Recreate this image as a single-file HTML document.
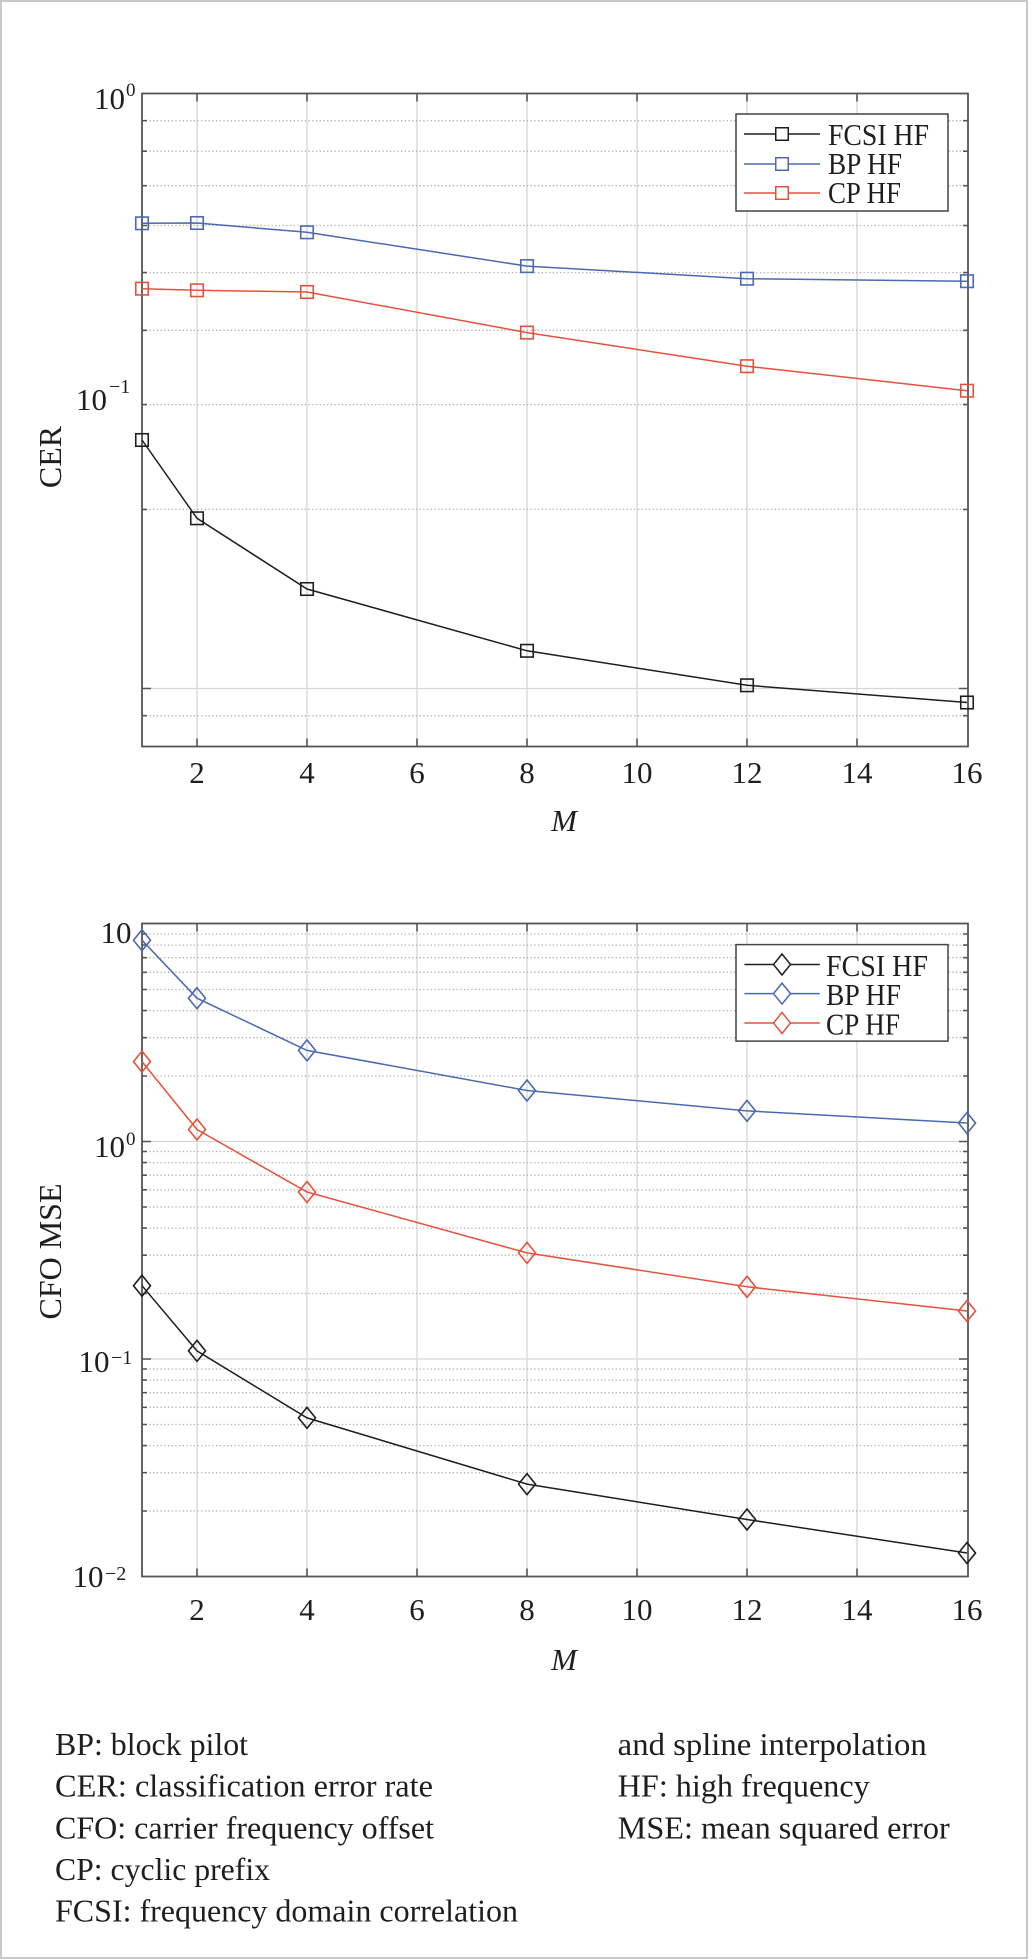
<!DOCTYPE html>
<html>
<head>
<meta charset="utf-8">
<style>
html,body{margin:0;padding:0;background:#fff;}
svg{display:block;}
text{font-family:"Liberation Serif","Times New Roman",serif;fill:#1e1e1e;}
</style>
</head>
<body>
<svg xmlns="http://www.w3.org/2000/svg" width="1033" height="1960" viewBox="0 0 1033 1960">
<rect x="0" y="0" width="1033" height="1960" fill="#fff"/>
<rect x="1" y="1" width="1026" height="1957" fill="#fff" stroke="#c8c8c8" stroke-width="2"/>

<!-- ================= TOP PLOT ================= -->
<g>
  <!-- vertical grid -->
  <g stroke="#d6d6d6" stroke-width="1.3">
    <line x1="197" y1="93.5" x2="197" y2="746.5"/>
    <line x1="307" y1="93.5" x2="307" y2="746.5"/>
    <line x1="417" y1="93.5" x2="417" y2="746.5"/>
    <line x1="527" y1="93.5" x2="527" y2="746.5"/>
    <line x1="637" y1="93.5" x2="637" y2="746.5"/>
    <line x1="747" y1="93.5" x2="747" y2="746.5"/>
    <line x1="857" y1="93.5" x2="857" y2="746.5"/>
    <line x1="142" y1="688.5" x2="968" y2="688.5"/>
  </g>
  <!-- minor dotted -->
  <g stroke="#b0b0b0" stroke-width="1.3" stroke-dasharray="1.3 2.4">
    <line x1="142" y1="120.7" x2="968" y2="120.7"/>
    <line x1="142" y1="151.2" x2="968" y2="151.2"/>
    <line x1="142" y1="185.7" x2="968" y2="185.7"/>
    <line x1="142" y1="225.5" x2="968" y2="225.5"/>
    <line x1="142" y1="272.6" x2="968" y2="272.6"/>
    <line x1="142" y1="330.3" x2="968" y2="330.3"/>
    <line x1="142" y1="404.6" x2="968" y2="404.6"/>
    <line x1="142" y1="509.4" x2="968" y2="509.4"/>
    <line x1="142" y1="715.7" x2="968" y2="715.7"/>
  </g>
  <!-- ticks -->
  <g stroke="#555" stroke-width="1.6">
    <path d="M197 93.5v8M307 93.5v8M417 93.5v8M527 93.5v8M637 93.5v8M747 93.5v8M857 93.5v8
             M197 746.5v-8M307 746.5v-8M417 746.5v-8M527 746.5v-8M637 746.5v-8M747 746.5v-8M857 746.5v-8"/>
    <path d="M142 120.7h5M142 151.2h5M142 185.7h5M142 225.5h5M142 272.6h5M142 330.3h5M142 404.6h5M142 509.4h5M142 715.7h5M142 688.5h9
             M968 120.7h-5M968 151.2h-5M968 185.7h-5M968 225.5h-5M968 272.6h-5M968 330.3h-5M968 404.6h-5M968 509.4h-5M968 715.7h-5M968 688.5h-9"/>
  </g>
  <!-- axes box -->
  <rect x="142" y="93.5" width="826" height="653" fill="none" stroke="#555" stroke-width="1.8"/>

  <!-- series -->
  <g fill="none" stroke-width="1.5">
    <polyline stroke="#1e1e1e" points="142,440 197,518.3 307,589 527,650.8 747,685.3 967,702.5"/>
    <polyline stroke="#4a68b3" points="142,223.3 197,223 307,232.3 527,266.1 747,278.7 967,281.2"/>
    <polyline stroke="#e4523c" points="142,288.7 197,290.3 307,292 527,332.6 747,366.2 967,390.7"/>
  </g>
  <g fill="none" stroke-width="1.6">
    <g stroke="#1e1e1e">
      <rect x="135.75" y="433.75" width="12.5" height="12.5"/>
      <rect x="190.75" y="512.05" width="12.5" height="12.5"/>
      <rect x="300.75" y="582.75" width="12.5" height="12.5"/>
      <rect x="520.75" y="644.55" width="12.5" height="12.5"/>
      <rect x="740.75" y="679.05" width="12.5" height="12.5"/>
      <rect x="960.75" y="696.25" width="12.5" height="12.5"/>
    </g>
    <g stroke="#4a68b3">
      <rect x="135.75" y="217.05" width="12.5" height="12.5"/>
      <rect x="190.75" y="216.75" width="12.5" height="12.5"/>
      <rect x="300.75" y="226.05" width="12.5" height="12.5"/>
      <rect x="520.75" y="259.85" width="12.5" height="12.5"/>
      <rect x="740.75" y="272.45" width="12.5" height="12.5"/>
      <rect x="960.75" y="274.95" width="12.5" height="12.5"/>
    </g>
    <g stroke="#e4523c">
      <rect x="135.75" y="282.45" width="12.5" height="12.5"/>
      <rect x="190.75" y="284.05" width="12.5" height="12.5"/>
      <rect x="300.75" y="285.75" width="12.5" height="12.5"/>
      <rect x="520.75" y="326.35" width="12.5" height="12.5"/>
      <rect x="740.75" y="359.95" width="12.5" height="12.5"/>
      <rect x="960.75" y="384.45" width="12.5" height="12.5"/>
    </g>
  </g>

  <!-- legend -->
  <rect x="736" y="114" width="212" height="97" fill="#fff" stroke="#444" stroke-width="1.5"/>
  <g stroke-width="1.5" fill="none">
    <line x1="744" y1="134" x2="820" y2="134" stroke="#1e1e1e"/>
    <rect x="775.75" y="127.75" width="12.5" height="12.5" stroke="#1e1e1e" fill="#fff"/>
    <line x1="744" y1="164" x2="820" y2="164" stroke="#4a68b3"/>
    <rect x="775.75" y="157.75" width="12.5" height="12.5" stroke="#4a68b3" fill="#fff"/>
    <line x1="744" y1="193" x2="820" y2="193" stroke="#e4523c"/>
    <rect x="775.75" y="186.75" width="12.5" height="12.5" stroke="#e4523c" fill="#fff"/>
  </g>
  <text x="828" y="145" font-size="31" textLength="101" lengthAdjust="spacingAndGlyphs">FCSI HF</text>
  <text x="828" y="174" font-size="31" textLength="74" lengthAdjust="spacingAndGlyphs">BP HF</text>
  <text x="828" y="203" font-size="31" textLength="73" lengthAdjust="spacingAndGlyphs">CP HF</text>

  <!-- y tick labels -->
  <text x="125" y="109" font-size="31" text-anchor="end">10</text>
  <text x="126" y="96" font-size="19">0</text>
  <text x="107" y="410" font-size="31" text-anchor="end">10</text>
  <text x="109" y="393" font-size="20">−1</text>

  <!-- x tick labels -->
  <g font-size="31" text-anchor="middle">
    <text x="197" y="783">2</text>
    <text x="307" y="783">4</text>
    <text x="417" y="783">6</text>
    <text x="527" y="783">8</text>
    <text x="637" y="783">10</text>
    <text x="747" y="783">12</text>
    <text x="857" y="783">14</text>
    <text x="967" y="783">16</text>
  </g>
  <text x="564" y="831" font-size="31" font-style="italic" text-anchor="middle">M</text>
  <text transform="translate(61,457) rotate(-90)" font-size="32" text-anchor="middle">CER</text>
</g>

<!-- ================= BOTTOM PLOT ================= -->
<g>
  <g stroke="#d6d6d6" stroke-width="1.3">
    <line x1="197" y1="923.5" x2="197" y2="1576.5"/>
    <line x1="307" y1="923.5" x2="307" y2="1576.5"/>
    <line x1="417" y1="923.5" x2="417" y2="1576.5"/>
    <line x1="527" y1="923.5" x2="527" y2="1576.5"/>
    <line x1="637" y1="923.5" x2="637" y2="1576.5"/>
    <line x1="747" y1="923.5" x2="747" y2="1576.5"/>
    <line x1="857" y1="923.5" x2="857" y2="1576.5"/>
    <line x1="142" y1="1141.5" x2="968" y2="1141.5"/>
    <line x1="142" y1="1359" x2="968" y2="1359"/>
  </g>
  <g stroke="#b0b0b0" stroke-width="1.3" stroke-dasharray="1.3 2.4">
    <line x1="142" y1="934.0" x2="968" y2="934.0"/>
    <line x1="142" y1="945.1" x2="968" y2="945.1"/>
    <line x1="142" y1="957.7" x2="968" y2="957.7"/>
    <line x1="142" y1="972.3" x2="968" y2="972.3"/>
    <line x1="142" y1="989.5" x2="968" y2="989.5"/>
    <line x1="142" y1="1010.6" x2="968" y2="1010.6"/>
    <line x1="142" y1="1037.7" x2="968" y2="1037.7"/>
    <line x1="142" y1="1076.0" x2="968" y2="1076.0"/>
    <line x1="142" y1="1151.5" x2="968" y2="1151.5"/>
    <line x1="142" y1="1162.6" x2="968" y2="1162.6"/>
    <line x1="142" y1="1175.2" x2="968" y2="1175.2"/>
    <line x1="142" y1="1189.8" x2="968" y2="1189.8"/>
    <line x1="142" y1="1207.0" x2="968" y2="1207.0"/>
    <line x1="142" y1="1228.1" x2="968" y2="1228.1"/>
    <line x1="142" y1="1255.2" x2="968" y2="1255.2"/>
    <line x1="142" y1="1293.5" x2="968" y2="1293.5"/>
    <line x1="142" y1="1369.0" x2="968" y2="1369.0"/>
    <line x1="142" y1="1380.1" x2="968" y2="1380.1"/>
    <line x1="142" y1="1392.7" x2="968" y2="1392.7"/>
    <line x1="142" y1="1407.3" x2="968" y2="1407.3"/>
    <line x1="142" y1="1424.5" x2="968" y2="1424.5"/>
    <line x1="142" y1="1445.6" x2="968" y2="1445.6"/>
    <line x1="142" y1="1472.7" x2="968" y2="1472.7"/>
    <line x1="142" y1="1511.0" x2="968" y2="1511.0"/>
  </g>
  <g stroke="#555" stroke-width="1.6">
    <path d="M197 923.5v8M307 923.5v8M417 923.5v8M527 923.5v8M637 923.5v8M747 923.5v8M857 923.5v8
             M197 1576.5v-8M307 1576.5v-8M417 1576.5v-8M527 1576.5v-8M637 1576.5v-8M747 1576.5v-8M857 1576.5v-8"/>
    <path d="M142 934h5M142 945.1h5M142 957.7h5M142 972.3h5M142 989.5h5M142 1010.6h5M142 1037.7h5M142 1076h5
             M142 1151.5h5M142 1162.6h5M142 1175.2h5M142 1189.8h5M142 1207h5M142 1228.1h5M142 1255.2h5M142 1293.5h5
             M142 1369h5M142 1380.1h5M142 1392.7h5M142 1407.3h5M142 1424.5h5M142 1445.6h5M142 1472.7h5M142 1511h5
             M142 1141.5h9M142 1359h9"/>
    <path d="M968 934h-5M968 945.1h-5M968 957.7h-5M968 972.3h-5M968 989.5h-5M968 1010.6h-5M968 1037.7h-5M968 1076h-5
             M968 1151.5h-5M968 1162.6h-5M968 1175.2h-5M968 1189.8h-5M968 1207h-5M968 1228.1h-5M968 1255.2h-5M968 1293.5h-5
             M968 1369h-5M968 1380.1h-5M968 1392.7h-5M968 1407.3h-5M968 1424.5h-5M968 1445.6h-5M968 1472.7h-5M968 1511h-5
             M968 1141.5h-9M968 1359h-9"/>
  </g>
  <rect x="142" y="923.5" width="826" height="653" fill="none" stroke="#555" stroke-width="1.8"/>

  <g fill="none" stroke-width="1.5">
    <polyline stroke="#4a68b3" points="142,940.2 197,998.2 307,1050.4 527,1090.5 747,1110.9 967,1123"/>
    <polyline stroke="#e4523c" points="142,1061.6 197,1129.5 307,1192 527,1252.9 747,1286.8 967,1311"/>
    <polyline stroke="#1e1e1e" points="142,1285.7 197,1350.9 307,1417.9 527,1484.1 747,1519.5 967,1553"/>
  </g>
  <g fill="none" stroke-width="1.6">
    <g stroke="#4a68b3">
      <path d="M142 929.7L150.5 940.2L142 950.7L133.5 940.2Z"/>
      <path d="M197 987.7L205.5 998.2L197 1008.7L188.5 998.2Z"/>
      <path d="M307 1039.9L315.5 1050.4L307 1060.9L298.5 1050.4Z"/>
      <path d="M527 1080L535.5 1090.5L527 1101L518.5 1090.5Z"/>
      <path d="M747 1100.4L755.5 1110.9L747 1121.4L738.5 1110.9Z"/>
      <path d="M967 1112.5L975.5 1123L967 1133.5L958.5 1123Z"/>
    </g>
    <g stroke="#e4523c">
      <path d="M142 1051.1L150.5 1061.6L142 1072.1L133.5 1061.6Z"/>
      <path d="M197 1119L205.5 1129.5L197 1140L188.5 1129.5Z"/>
      <path d="M307 1181.5L315.5 1192L307 1202.5L298.5 1192Z"/>
      <path d="M527 1242.4L535.5 1252.9L527 1263.4L518.5 1252.9Z"/>
      <path d="M747 1276.3L755.5 1286.8L747 1297.3L738.5 1286.8Z"/>
      <path d="M967 1300.5L975.5 1311L967 1321.5L958.5 1311Z"/>
    </g>
    <g stroke="#1e1e1e">
      <path d="M142 1275.2L150.5 1285.7L142 1296.2L133.5 1285.7Z"/>
      <path d="M197 1340.4L205.5 1350.9L197 1361.4L188.5 1350.9Z"/>
      <path d="M307 1407.4L315.5 1417.9L307 1428.4L298.5 1417.9Z"/>
      <path d="M527 1473.6L535.5 1484.1L527 1494.6L518.5 1484.1Z"/>
      <path d="M747 1509L755.5 1519.5L747 1530L738.5 1519.5Z"/>
      <path d="M967 1542.5L975.5 1553L967 1563.5L958.5 1553Z"/>
    </g>
  </g>

  <!-- legend -->
  <rect x="736" y="944.6" width="212" height="96.5" fill="#fff" stroke="#444" stroke-width="1.5"/>
  <g stroke-width="1.5" fill="#fff">
    <line x1="744.4" y1="964.5" x2="819.8" y2="964.5" stroke="#1e1e1e"/>
    <path d="M782 954L790.5 964.5L782 975L773.5 964.5Z" stroke="#1e1e1e"/>
    <line x1="744.4" y1="993.6" x2="819.8" y2="993.6" stroke="#4a68b3"/>
    <path d="M782 983.1L790.5 993.6L782 1004.1L773.5 993.6Z" stroke="#4a68b3"/>
    <line x1="744.4" y1="1023" x2="819.8" y2="1023" stroke="#e4523c"/>
    <path d="M782 1012.5L790.5 1023L782 1033.5L773.5 1023Z" stroke="#e4523c"/>
  </g>
  <text x="826" y="976" font-size="31" textLength="102" lengthAdjust="spacingAndGlyphs">FCSI HF</text>
  <text x="826" y="1005" font-size="31" textLength="75" lengthAdjust="spacingAndGlyphs">BP HF</text>
  <text x="826" y="1034.5" font-size="31" textLength="74" lengthAdjust="spacingAndGlyphs">CP HF</text>

  <!-- y tick labels -->
  <text x="131.5" y="943" font-size="31" text-anchor="end">10</text>
  <text x="125" y="1157" font-size="31" text-anchor="end">10</text>
  <text x="126" y="1145" font-size="19">0</text>
  <text x="109.5" y="1372" font-size="31" text-anchor="end">10</text>
  <text x="111" y="1364" font-size="20">−1</text>
  <text x="103.5" y="1587" font-size="31" text-anchor="end">10</text>
  <text x="105" y="1580" font-size="20">−2</text>

  <g font-size="31" text-anchor="middle">
    <text x="197" y="1620">2</text>
    <text x="307" y="1620">4</text>
    <text x="417" y="1620">6</text>
    <text x="527" y="1620">8</text>
    <text x="637" y="1620">10</text>
    <text x="747" y="1620">12</text>
    <text x="857" y="1620">14</text>
    <text x="967" y="1620">16</text>
  </g>
  <text x="564" y="1670" font-size="31" font-style="italic" text-anchor="middle">M</text>
  <text transform="translate(61,1251.5) rotate(-90)" font-size="32" text-anchor="middle">CFO MSE</text>
</g>

<!-- ================= FOOTNOTES ================= -->
<g font-size="32">
  <text x="55" y="1755" textLength="193" lengthAdjust="spacingAndGlyphs">BP: block pilot</text>
  <text x="55" y="1796.7" textLength="378" lengthAdjust="spacingAndGlyphs">CER: classification error rate</text>
  <text x="55" y="1838.3" textLength="379" lengthAdjust="spacingAndGlyphs">CFO: carrier frequency offset</text>
  <text x="55" y="1880" textLength="215" lengthAdjust="spacingAndGlyphs">CP: cyclic prefix</text>
  <text x="55" y="1921.7" textLength="463" lengthAdjust="spacingAndGlyphs">FCSI: frequency domain correlation</text>
  <text x="617.7" y="1755" textLength="309" lengthAdjust="spacingAndGlyphs">and spline interpolation</text>
  <text x="617.7" y="1796.7" textLength="252" lengthAdjust="spacingAndGlyphs">HF: high frequency</text>
  <text x="617.7" y="1838.3" textLength="332" lengthAdjust="spacingAndGlyphs">MSE: mean squared error</text>
</g>
</svg>
</body>
</html>
